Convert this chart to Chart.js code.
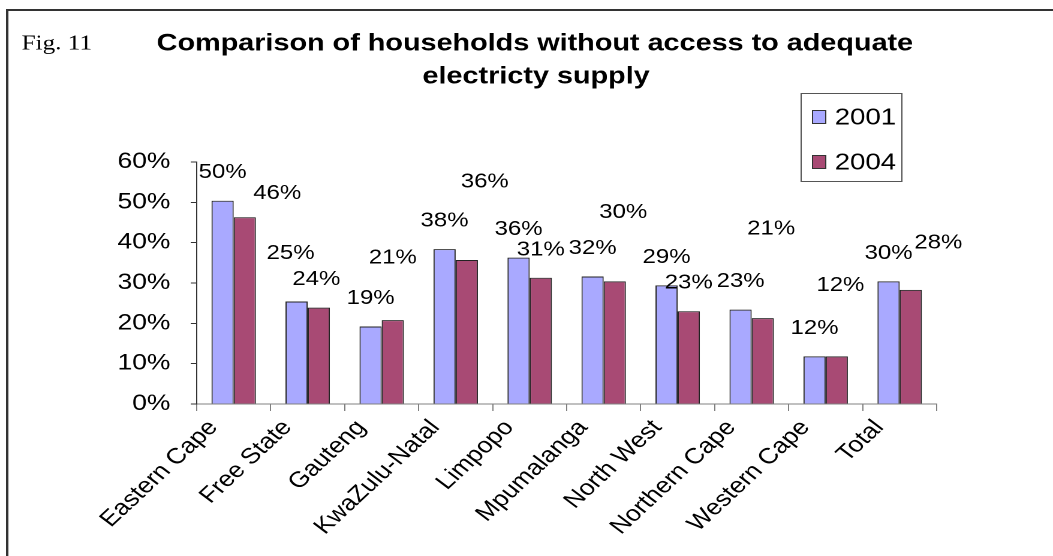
<!DOCTYPE html>
<html>
<head>
<meta charset="utf-8">
<script src="https://cdn.jsdelivr.net/npm/chart.js@4.4.0/dist/chart.umd.min.js"></script>
<style>
    html, body { margin: 0; padding: 0; background: #fff; }
    #wrap { width: 1053px; height: 556px; position: relative; overflow: hidden; }
    /* the original picture is stretched sideways, so draw narrow and stretch */
    #myChart { transform: scaleX(1.1993); transform-origin: 0 0; }
</style>
</head>
<body>
<div id="wrap"><canvas id="myChart" width="878" height="556"></canvas></div>
<script>
const categories = ['Eastern Cape', 'Free State', 'Gauteng', 'KwaZulu-Natal', 'Limpopo',
    'Mpumalanga', 'North West', 'Northern Cape', 'Western Cape', 'Total'];
const values2001 = [50.4, 25.4, 19.2, 38.4, 36.3, 31.6, 29.4, 23.4, 11.8, 30.4];
const values2004 = [46.3, 23.9, 20.8, 35.7, 31.3, 30.4, 23.0, 21.3, 11.8, 28.3];
const yTicks = [0, 10, 20, 30, 40, 50, 60];

// where excel dropped the labels (px shift from the normal spot above the bar)
const labelShift2001 = [[0, 0], [-5, -20], [0, 0], [0, 0], [0, 0], [0, 0], [0, 0], [0, 0], [0, 0], [0, 0]];
const labelShift2004 = [[27, 4], [-2, 0], [0, -34], [15, -50], [0, 0], [7, -41], [0, 0], [7, -61], [3, -43], [23, -19]];

const FONT = "'Liberation Sans', Arial, sans-serif";

// frame, title, "Fig. 11" and legend box
const framePlugin = {
    id: 'frame',
    afterDraw(chart) {
        const ctx = chart.ctx;
        ctx.save();
        ctx.strokeStyle = '#333';
        ctx.lineWidth = 2;
        ctx.beginPath();
        ctx.moveTo(6, 556);
        ctx.lineTo(6, 10);
        ctx.lineTo(878, 10);
        ctx.stroke();

        ctx.fillStyle = '#000';
        ctx.textBaseline = 'middle';
        ctx.textAlign = 'left';
        ctx.font = "21px 'Liberation Serif', Georgia, serif";
        ctx.fillText('Fig. 11', 18, 44);

        ctx.textAlign = 'center';
        ctx.font = 'bold 24px ' + FONT;
        ctx.fillText('Comparison of households without access to adequate', 446, 44);
        ctx.fillText('electricty supply', 447, 77);

        // legend
        ctx.textAlign = 'left';
        ctx.lineWidth = 1;
        ctx.strokeStyle = '#555';
        ctx.strokeRect(668, 93.5, 84, 88);
        const rows = [117, 162];
        chart.data.datasets.forEach((d, i) => {
            ctx.fillStyle = d.backgroundColor;
            ctx.fillRect(677, rows[i] - 7, 12, 14);
            ctx.strokeStyle = '#333';
            ctx.strokeRect(677.5, rows[i] - 6.5, 11, 13);
            ctx.fillStyle = '#000';
            ctx.font = '23px ' + FONT;
            ctx.fillText(d.label, 696, rows[i] + 1);
        });
        ctx.restore();
    }
};

const valueLabels = {
    id: 'valueLabels',
    afterDatasetsDraw(chart) {
        const ctx = chart.ctx;
        const shifts = [labelShift2001, labelShift2004];
        ctx.save();
        ctx.font = '20px ' + FONT;
        ctx.fillStyle = '#000';
        ctx.textAlign = 'center';
        ctx.textBaseline = 'middle';
        chart.data.datasets.forEach((d, i) => {
            chart.getDatasetMeta(i).data.forEach((bar, j) => {
                const s = shifts[i][j];
                ctx.fillText(Math.round(d.data[j]) + '%', bar.x + s[0], bar.y - 28 + s[1]);
            });
        });
        ctx.restore();
    }
};

const ctx = document.getElementById('myChart');

new Chart(ctx, {
    type: 'bar',
    data: {
        labels: categories,
        datasets: [
            {
                label: '2001', data: values2001,
                backgroundColor: '#A9A9FF', borderColor: '#222', borderWidth: 1
            },
            {
                label: '2004', data: values2004,
                backgroundColor: '#A84A74', borderColor: '#222', borderWidth: 1
            }
        ]
    },
    options: {
        responsive: false,
        animation: false,
        devicePixelRatio: 2,
        layout: { padding: { left: 98, right: 97, top: 162, bottom: 0 } },
        datasets: { bar: { categoryPercentage: 0.6, barPercentage: 1 } },
        plugins: {
            legend: { display: false },
            tooltip: { enabled: false },
            title: { display: false }
        },
        scales: {
            x: {
                offset: true,
                grid: { offset: true, drawOnChartArea: false, color: '#808080', tickLength: 7 },
                border: { color: '#808080', width: 1 },
                ticks: {
                    color: '#000', minRotation: 48, maxRotation: 48, padding: 4,
                    labelOffset: -17,
                    font: { family: FONT, size: 22 }
                },
                afterFit(s) { s.height = 152; }
            },
            y: {
                min: 0, max: 60,
                afterBuildTicks(s) { s.ticks = yTicks.map(v => ({ value: v })); },
                grid: { drawOnChartArea: false, color: '#333', tickLength: 5 },
                border: { color: '#333', width: 1 },
                ticks: {
                    color: '#000', padding: 17,
                    font: { family: FONT, size: 22 },
                    callback: v => v + '%'
                },
                afterFit(s) { s.width = 66; }
            }
        }
    },
    plugins: [valueLabels, framePlugin]
});
</script>
</body>
</html>
